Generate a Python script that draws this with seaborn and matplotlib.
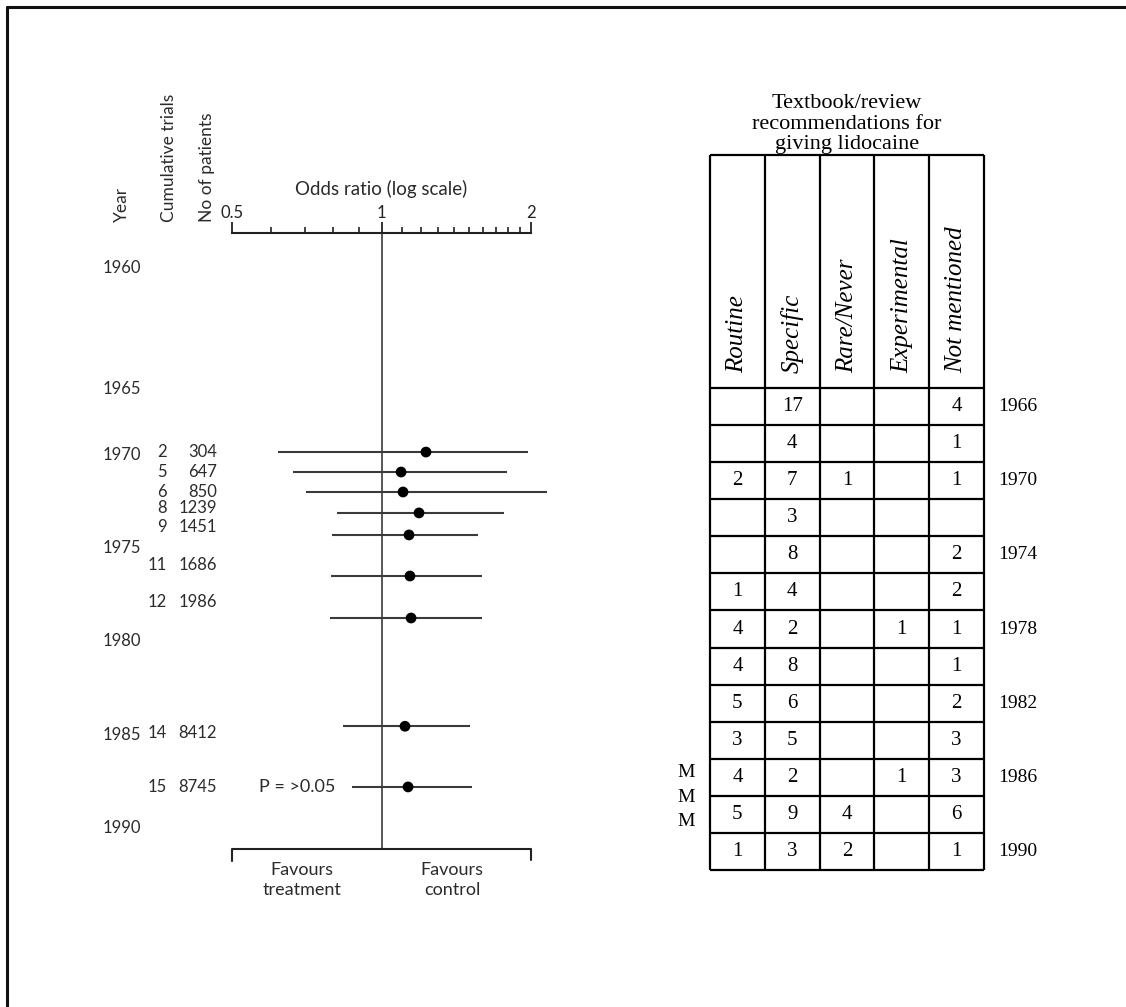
import matplotlib
matplotlib.use("Agg")
import matplotlib.pyplot as plt
import matplotlib.transforms as mtransforms
from matplotlib.lines import Line2D
from matplotlib.ticker import FixedLocator, NullFormatter
import seaborn as sns

# ---- cumulative meta-analysis (left) ----
cum_trials = [2, 5, 6, 8, 9, 11, 12, 14, 15]
n_patients = [304, 647, 850, 1239, 1451, 1686, 1986, 8412, 8745]
label_year = [1969.86, 1970.93, 1972.0, 1972.86, 1973.87, 1975.9, 1977.9, 1984.9, 1987.8]
line_year = [1969.86, 1970.93, 1972.0, 1973.12, 1974.3, 1976.5, 1978.75, 1984.55, 1987.8]
odds_ratio = [1.229, 1.095, 1.105, 1.190, 1.136, 1.141, 1.147, 1.115, 1.131]
ci_low = [0.619, 0.663, 0.705, 0.813, 0.795, 0.791, 0.788, 0.836, 0.872]
ci_high = [1.973, 1.789, 2.154, 1.764, 1.565, 1.593, 1.593, 1.507, 1.521]

year_labels = ["1960", "1965", "1970", "1975", "1980", "1985", "1990"]
year_pos = [1960, 1966.5, 1970, 1975, 1980, 1985, 1990]

# ---- textbook recommendations (right) ----
columns = ["Routine", "Specific", "Rare/Never", "Experimental", "Not mentioned"]
routine = [None, None, 2, None, None, 1, 4, 4, 5, 3, 4, 5, 1]
specific = [17, 4, 7, 3, 8, 4, 2, 8, 6, 5, 2, 9, 3]
rare_never = [None, None, 1, None, None, None, None, None, None, None, None, 4, 2]
experimental = [None, None, None, None, None, None, 1, None, None, None, 1, None, None]
not_mentioned = [4, 1, 1, None, 2, 2, 1, 1, 2, 3, 3, 6, 1]
table_years = [1966, None, 1970, None, 1974, None, 1978, None, 1982, None, 1986, None, 1990]

sns.set_theme(style="white")
W, H = 1126, 1007
fig = plt.figure(figsize=(W / 100, H / 100), dpi=100)
fig.patch.set_facecolor("white")

sans = ["Lato", "DejaVu Sans"]
serif = ["Liberation Serif", "DejaVu Serif"]
ink = "#2b2b2b"

# frame (left and top edges only visible)
fig.add_artist(Line2D([7 / W, 7 / W], [0, 1 - 7 / H], color="#111", lw=2.2))
fig.add_artist(Line2D([7 / W, 1], [1 - 7 / H, 1 - 7 / H], color="#111", lw=2.2))

# ---------------- forest plot ----------------
px_per_year = 18.667
y_top_val, y_bot_val = 1956.0, 1993.0
top_px = 268 - (1960 - y_top_val) * px_per_year
bot_px = 268 + (y_bot_val - 1960) * px_per_year
ax = fig.add_axes([232 / W, 1 - bot_px / H, 299 / W, (bot_px - top_px) / H])
ax.set_facecolor("none")
ax.set_xscale("log")

axis_y = 1958.13
bracket_y = 1991.12

ax.hlines(line_year, ci_low, ci_high, color="#3a3a3a", lw=1.5, clip_on=False, zorder=2)
ax.vlines(1, axis_y, bracket_y, color="#4a4a4a", lw=1.3, zorder=1)
sns.scatterplot(x=odds_ratio, y=line_year, ax=ax, color="black", s=60,
                edgecolor="none", zorder=3, clip_on=False)
ax.plot([0.5, 0.5, 2, 2], [bracket_y + 0.65, bracket_y, bracket_y, bracket_y + 0.6],
        color="#222", lw=1.5, clip_on=False)

ax.set_xlim(0.5, 2)
ax.set_ylim(y_bot_val, y_top_val)
for s in ["left", "right", "bottom"]:
    ax.spines[s].set_visible(False)
ax.spines["top"].set_position(("data", axis_y))
ax.spines["top"].set_color("#222")
ax.spines["top"].set_linewidth(1.5)
ax.xaxis.set_ticks_position("top")
ax.xaxis.set_label_position("top")
ax.xaxis.set_major_locator(FixedLocator([0.5, 1, 2]))
ax.set_xticklabels(["0.5", "1", "2"])
ax.xaxis.set_minor_locator(FixedLocator([0.6, 0.7, 0.8, 0.9, 1.1, 1.2, 1.3, 1.4,
                                         1.5, 1.6, 1.7, 1.8, 1.9]))
ax.xaxis.set_minor_formatter(NullFormatter())
ax.tick_params(axis="x", which="major", direction="out", length=8, width=1.3,
               pad=1, labelsize=12, colors="#222")
ax.tick_params(axis="x", which="minor", direction="out", length=4, width=1.2,
               colors="#222", top=True, bottom=False)
for lab in ax.get_xticklabels():
    lab.set_family(sans)
ax.set_xlabel("Odds ratio (log scale)", fontsize=13.5, family=sans, color=ink, labelpad=7)
ax.set_yticks([])

tr = mtransforms.blended_transform_factory(ax.transAxes, ax.transData)
def fx(px):
    return (px - 232) / 299

for lab, y in zip(year_labels, year_pos):
    ax.text(fx(103), y, lab, transform=tr, ha="left", va="center",
            fontsize=12, family=sans, color=ink)
for c, n, y in zip(cum_trials, n_patients, label_year):
    ax.text(fx(167), y, str(c), transform=tr, ha="right", va="center",
            fontsize=12, family=sans, color=ink)
    ax.text(fx(217), y, str(n), transform=tr, ha="right", va="center",
            fontsize=12, family=sans, color=ink)

head_y = 1960 + (222 - 268) / px_per_year
for lab, xp in [("Year", 122), ("Cumulative trials", 169), ("No of patients", 207)]:
    ax.text(fx(xp), head_y, lab, transform=tr, rotation=90, ha="center",
            va="bottom", fontsize=12.5, family=sans, color=ink)

ax.text(fx(335), line_year[-1], "P = >0.05", transform=tr, ha="right",
        va="center", fontsize=13, family=sans, color=ink)
fav_y = 1960 + (880 - 268) / px_per_year
ax.text(fx(302), fav_y, "Favours\ntreatment", transform=tr, ha="center",
        va="center", fontsize=13, family=sans, color=ink, linespacing=1.3)
ax.text(fx(452), fav_y, "Favours\ncontrol", transform=tr, ha="center",
        va="center", fontsize=13, family=sans, color=ink, linespacing=1.3)

# ---------------- recommendations table ----------------
n_rows = len(specific)
row_px = (870 - 388) / n_rows
head_rows = (388 - 155) / row_px
tab = fig.add_axes([710 / W, 1 - 870 / H, 274 / W, (870 - 155) / H])
tab.set_xlim(0, 5)
tab.set_ylim(n_rows, -head_rows)
tab.axis("off")

tab.vlines(range(6), -head_rows, n_rows, color="black", lw=1.6, clip_on=False)
tab.hlines([-head_rows] + list(range(n_rows + 1)), 0, 5, color="black", lw=1.6,
           clip_on=False)

for j, name in enumerate(columns):
    tab.text(j + 0.5, -0.4, name, rotation=90, ha="center", va="bottom",
             fontsize=18, family=serif, style="italic", color="black")

series = [routine, specific, rare_never, experimental, not_mentioned]
for j, col in enumerate(series):
    for i, v in enumerate(col):
        if v is not None:
            tab.text(j + 0.5, i + 0.5, str(v), ha="center", va="center",
                     fontsize=15, family=serif, color="black")

for i, yr in enumerate(table_years):
    if yr is not None:
        tab.text(5.26, i + 0.5, str(yr), ha="left", va="center",
                 fontsize=14, family=serif, color="black")

m_x = (686 - 710) / (274 / 5)
for yp in [773, 797, 821]:
    tab.text(m_x, (yp - 388) / row_px, "M", ha="center", va="center",
             fontsize=14, family=serif, color="black")

tab.text(2.5, -head_rows - 0.03,
         "Textbook/review\nrecommendations for\ngiving lidocaine",
         ha="center", va="bottom", fontsize=16, family=serif, color="black",
         linespacing=1.09)

fig.savefig("out.png", dpi=100, facecolor="white")
